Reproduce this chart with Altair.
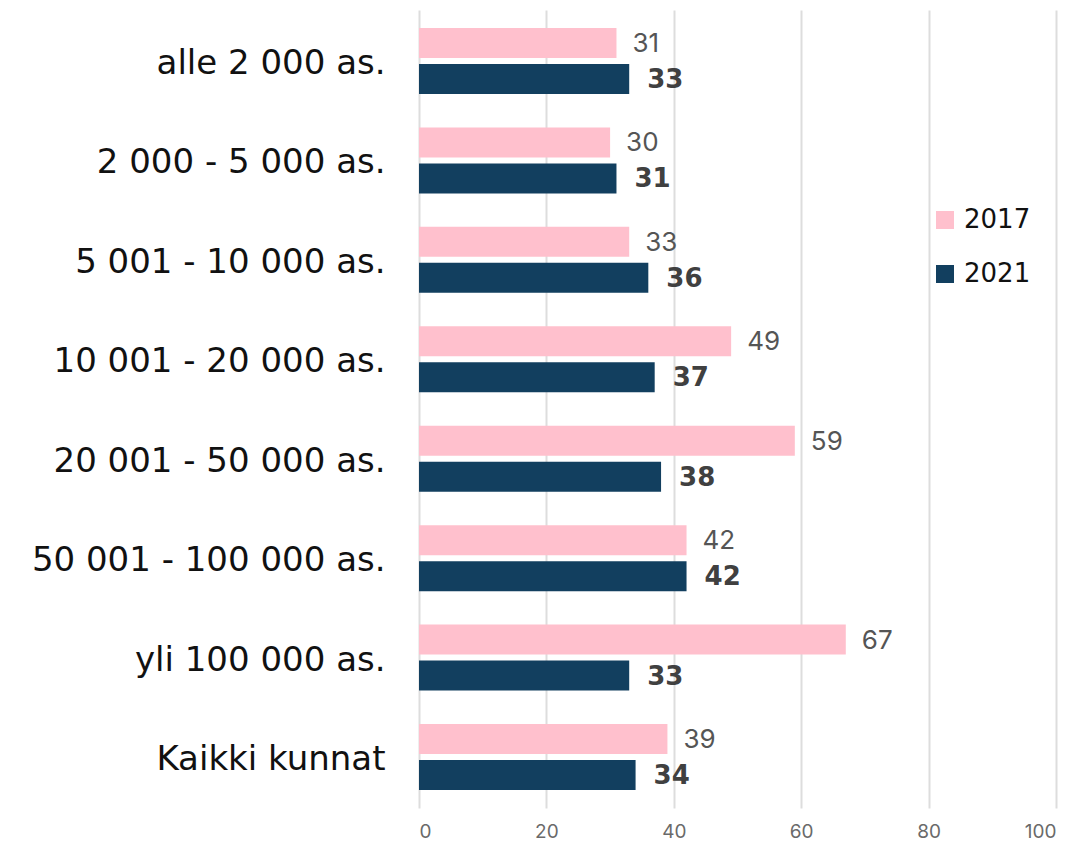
import altair as alt
import pandas as pd

categories = ["alle 2 000 as.", "2 000 - 5 000 as.", "5 001 - 10 000 as.",
              "10 001 - 20 000 as.", "20 001 - 50 000 as.", "50 001 - 100 000 as.",
              "yli 100 000 as.", "Kaikki kunnat"]
years = ["2017", "2021"]
values_2017 = [31, 30, 33, 49, 59, 42, 67, 39]
values_2021 = [33, 31, 36, 37, 38, 42, 33, 34]
x_ticks = [0, 20, 40, 60, 80, 100]

rows = []
for c, a, b in zip(categories, values_2017, values_2021):
    rows.append({"cat": c, "year": "2017", "value": a})
    rows.append({"cat": c, "year": "2021", "value": b})
df = pd.DataFrame(rows)

FONT = "DejaVu Sans"

y_enc = alt.Y("cat:N", sort=categories,
              scale=alt.Scale(paddingInner=0.336, paddingOuter=0.181),
              axis=alt.Axis(title=None, domain=False, ticks=False, labelFontSize=34,
                            labelColor="#111111", labelPadding=34, labelFont=FONT,
                            labelLimit=420, labelOffset=3))
yoff = alt.YOffset("year:N", sort=years, scale=alt.Scale(paddingInner=0.1667))
x_enc = alt.X("value:Q", scale=alt.Scale(domain=[0, 100], nice=False),
              axis=alt.Axis(title=None, values=x_ticks, domain=False, ticks=False,
                            grid=True, gridColor="#dddddd", gridWidth=2,
                            labelFontSize=19, labelColor="#6a6a6a", labelPadding=14,
                            labelFont="Inter"))

bars = alt.Chart(df).mark_bar().encode(
    y=y_enc, yOffset=yoff, x=x_enc,
    color=alt.Color("year:N", sort=years,
                    scale=alt.Scale(domain=years, range=["#FFC0CD", "#123F5F"]),
                    legend=alt.Legend(title=None, orient="none", legendX=513, legendY=197,
                                      symbolType="square", symbolSize=324,
                                      symbolStrokeWidth=0,
                                      labelFontSize=26, labelFont=FONT,
                                      labelColor="#111111", rowPadding=28,
                                      labelOffset=6)),
)

t2017 = alt.Chart(df).transform_filter(alt.datum.year == "2017").mark_text(
    align="left", baseline="middle", dx=16, dy=1, fontSize=26, font="Inter", color="#555555"
).encode(y=y_enc, yOffset=yoff, x=x_enc, text="value:Q")

t2021 = alt.Chart(df).transform_filter(alt.datum.year == "2021").mark_text(
    align="left", baseline="middle", dx=18, dy=1, fontSize=26, font=FONT, fontWeight="bold",
    color="#404040"
).encode(y=y_enc, yOffset=yoff, x=x_enc, text="value:Q")

chart = alt.layer(bars, t2017, t2021).properties(
    width=637, height=798,
    autosize=alt.AutoSizeParams(type="none"),
    padding={"left": 411, "top": 2, "right": 10, "bottom": 34},
).configure(background="white").configure_view(stroke=None)

chart.save("out.html", embed_options={"renderer": "svg", "actions": False})
